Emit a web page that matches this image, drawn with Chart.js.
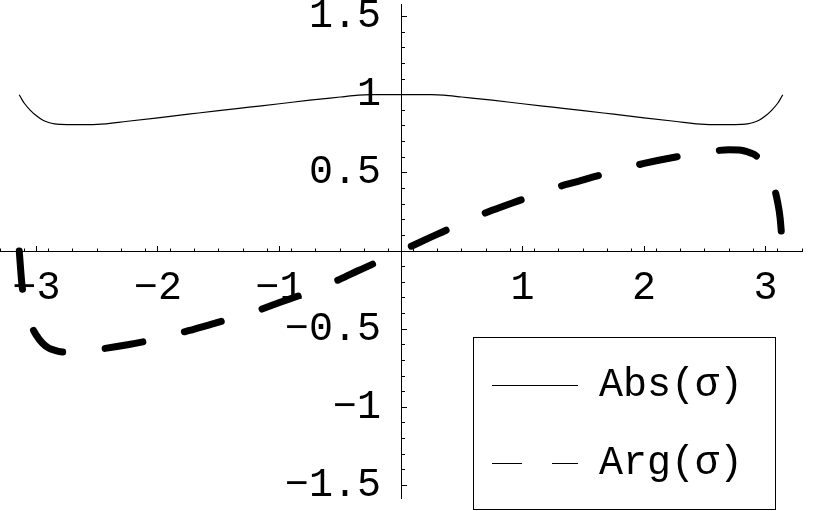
<!DOCTYPE html>
<html lang="en">
  <head>
    <meta charset="UTF-8" />
    <title>Abs and Arg of sigma</title>
    <script src="https://cdn.jsdelivr.net/npm/chart.js"></script>
    <style>
      html,
      body {
        margin: 0;
        padding: 0;
        background: #fff;
      }
      .chart-container {
        position: relative;
        width: 832px;
        height: 511px;
      }
    </style>
  </head>
  <body>
    <div class="chart-container">
      <canvas id="sigmaChart"></canvas>
    </div>

    <script>
      // values
      const sigmaX = [
        -3.1416, -3.12, -3.1, -3.05, -3.0, -2.95, -2.9, -2.85, -2.8, -2.7,
        -2.5, -2.25, -2.0, -1.75, -1.5, -1.25, -1.0, -0.75, -0.5, -0.35, -0.25,
        0, 0.25, 0.35, 0.5, 0.75, 1.0, 1.25, 1.5, 1.75, 2.0, 2.25, 2.5, 2.7,
        2.8, 2.85, 2.9, 2.95, 3.0, 3.05, 3.1, 3.12, 3.1416,
      ];
      const absValues = [
        1.0, 0.97, 0.945, 0.9, 0.865, 0.838, 0.822, 0.813, 0.81, 0.808, 0.81,
        0.83, 0.852, 0.875, 0.898, 0.92, 0.942, 0.965, 0.985, 0.997, 1.0, 1.0,
        1.0, 0.997, 0.985, 0.965, 0.942, 0.92, 0.898, 0.875, 0.852, 0.83, 0.81,
        0.808, 0.81, 0.813, 0.822, 0.838, 0.865, 0.9, 0.945, 0.97, 1.0,
      ];
      const argValues = [
        0, -0.21, -0.31, -0.46, -0.54, -0.59, -0.62, -0.635, -0.645, -0.648,
        -0.63, -0.6, -0.56, -0.51, -0.455, -0.4, -0.33, -0.26, -0.18, -0.125,
        -0.09, 0, 0.09, 0.125, 0.18, 0.26, 0.33, 0.4, 0.455, 0.51, 0.56, 0.6,
        0.63, 0.648, 0.645, 0.635, 0.62, 0.59, 0.54, 0.46, 0.31, 0.21, 0,
      ];
      const seriesLabels = ["Abs(σ)", "Arg(σ)"];

      const xTickValues = [-3, -2, -1, 1, 2, 3];
      const yTickValues = [-1.5, -1, -0.5, 0.5, 1, 1.5];
      const xRange = [-3.3, 3.3];
      const yRange = [-1.58, 1.58];

      const FONT = "'Liberation Mono', 'Courier New', monospace";
      Chart.defaults.font.family = FONT;
      Chart.defaults.color = "#000";

      function formatTick(value) {
        return value < 0 ? "\u2212" + Math.abs(value) : String(value);
      }

      const toPoints = (ys) => sigmaX.map((x, i) => ({ x: x, y: ys[i] }));

      // tick marks only, no labels
      function markScale(axis, range, tickLength, extra) {
        return Object.assign(
          {
            type: "linear",
            axis: axis,
            position: "center",
            min: range[0],
            max: range[1],
            border: { display: false },
            grid: {
              drawOnChartArea: false,
              drawTicks: true,
              tickLength: tickLength,
              tickColor: "#000",
              tickWidth: 1,
            },
            ticks: { display: false, autoSkip: false, includeBounds: false },
          },
          extra
        );
      }

      // draws a custom boxed legend like Mathematica's
      const boxedLegend = {
        id: "boxedLegend",
        afterDraw(chart) {
          const ctx = chart.ctx;
          ctx.save();
          ctx.fillStyle = "#fff";
          ctx.fillRect(473.5, 337.5, 302, 172);
          ctx.strokeStyle = "#000";
          ctx.lineWidth = 1;
          ctx.strokeRect(473.5, 337.5, 302, 172);
          chart.data.datasets.forEach((ds, i) => {
            const y = 385 + i * 78;
            ctx.setLineDash(ds.legendDash);
            ctx.beginPath();
            ctx.moveTo(492, y + 0.5);
            ctx.lineTo(578, y + 0.5);
            ctx.stroke();
            ctx.setLineDash([]);
            ctx.fillStyle = "#000";
            ctx.font = "40px " + FONT;
            ctx.textBaseline = "middle";
            ctx.textAlign = "left";
            ctx.fillText(ds.label, 599, y);
          });
          ctx.restore();
        },
      };

      const ctx = document.getElementById("sigmaChart").getContext("2d");
      new Chart(ctx, {
        type: "line",
        data: {
          datasets: [
            {
              label: seriesLabels[0],
              data: toPoints(absValues),
              borderColor: "#000",
              borderWidth: 1.2,
              pointRadius: 0,
              cubicInterpolationMode: "monotone",
              legendDash: [],
            },
            {
              label: seriesLabels[1],
              data: toPoints(argValues),
              borderColor: "#000",
              borderWidth: 7,
              borderDash: [38.3, 42.7],
              borderDashOffset: 0,
              borderCapStyle: "round",
              pointRadius: 0,
              cubicInterpolationMode: "monotone",
              legendDash: [30, 30],
            },
          ],
        },
        options: {
          responsive: true,
          maintainAspectRatio: false,
          animation: false,
          layout: { padding: { left: 0, right: 30, top: 4, bottom: 13 } },
          plugins: {
            legend: { display: false },
            tooltip: { enabled: false },
          },
          scales: {
            x: {
              type: "linear",
              position: "center",
              min: xRange[0],
              max: xRange[1],
              afterBuildTicks: (scale) => {
                scale.ticks = xTickValues.map((v) => ({ value: v }));
              },
              border: { display: true, color: "#000", width: 1 },
              grid: {
                drawOnChartArea: false,
                drawTicks: true,
                tickLength: 13,
                tickColor: "rgba(0,0,0,0)",
              },
              ticks: {
                padding: 0,
                autoSkip: false,
                maxRotation: 0,
                color: "#000",
                font: { size: 40, family: FONT },
                callback: formatTick,
              },
            },
            xMajor: markScale("x", xRange, -6, {
              afterBuildTicks: (scale) => {
                scale.ticks = xTickValues.map((v) => ({ value: v }));
              },
            }),
            xMinor: markScale("x", xRange, -3.5, {
              ticks: {
                display: false,
                autoSkip: false,
                includeBounds: false,
                stepSize: 0.2,
              },
            }),
            y: {
              type: "linear",
              position: "center",
              min: yRange[0],
              max: yRange[1],
              afterBuildTicks: (scale) => {
                scale.ticks = [yRange[0]]
                  .concat(yTickValues, [yRange[1]])
                  .map((v) => ({ value: v }));
              },
              border: { display: true, color: "#000", width: 1 },
              grid: {
                drawOnChartArea: false,
                drawTicks: true,
                tickLength: 20,
                tickColor: "rgba(0,0,0,0)",
              },
              ticks: {
                padding: 0,
                autoSkip: false,
                color: "#000",
                font: (c) => ({
                  size: c.tick && yTickValues.includes(c.tick.value) ? 40 : 1,
                  family: FONT,
                }),
                callback: (value) =>
                  yTickValues.includes(value) ? formatTick(value) : "",
              },
            },
            yMajor: markScale("y", yRange, -6, {
              afterBuildTicks: (scale) => {
                scale.ticks = yTickValues.map((v) => ({ value: v }));
              },
            }),
            yMinor: markScale("y", yRange, -4, {
              ticks: {
                display: false,
                autoSkip: false,
                includeBounds: false,
                stepSize: 0.1,
              },
            }),
          },
        },
        plugins: [boxedLegend],
      });
    </script>
  </body>
</html>
